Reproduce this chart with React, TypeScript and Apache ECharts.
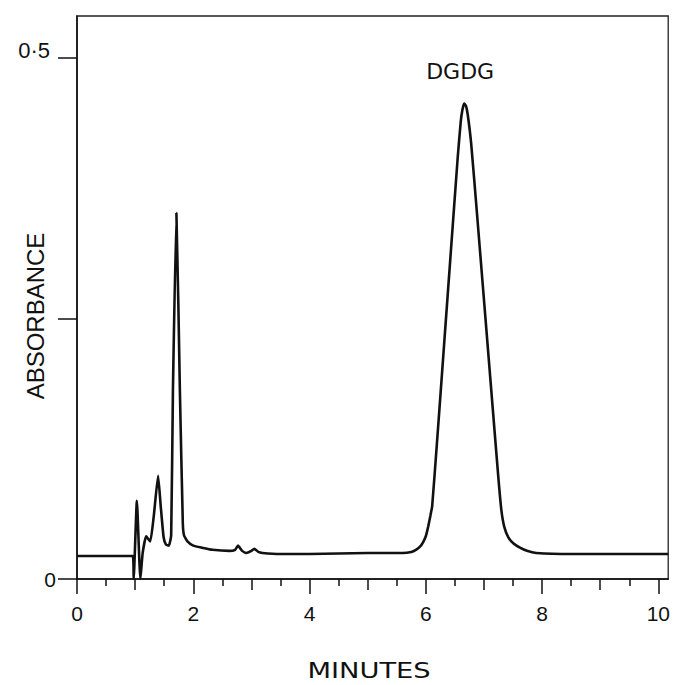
import React, { useEffect, useRef } from "react";
import * as echarts from "echarts";

const times = [
  0, 0.96, 0.975, 1.03, 1.09, 1.13, 1.19, 1.26, 1.32, 1.395, 1.44, 1.49, 1.53, 1.58, 1.62, 1.65, 1.71,
  1.77, 1.82, 1.84, 1.9, 2.0, 2.15, 2.33, 2.62, 2.72, 2.77, 2.84, 2.91, 3.0, 3.05, 3.12, 3.19, 3.5,
  4.0, 5.0, 5.6, 5.75, 5.83, 5.9, 5.95, 6.0, 6.04, 6.08, 6.11, 6.19, 6.28, 6.38, 6.47, 6.55, 6.6, 6.63,
  6.66, 6.69, 6.72, 6.78, 6.88, 6.98, 7.08, 7.18, 7.25, 7.3, 7.35, 7.42, 7.51, 7.62, 7.74, 7.9, 8.5, 10.17,
];
const absorbance = [
  0.022, 0.022, 0.0, 0.075, 0.0, 0.025, 0.041, 0.036, 0.06, 0.099, 0.07, 0.04, 0.033, 0.032, 0.042, 0.18, 0.351,
  0.18, 0.054, 0.042, 0.036, 0.032, 0.03, 0.028, 0.027, 0.028, 0.032, 0.027, 0.025, 0.027, 0.029, 0.026, 0.025, 0.024,
  0.024, 0.025, 0.025, 0.026, 0.028, 0.031, 0.035, 0.041, 0.05, 0.061, 0.07, 0.129, 0.198, 0.275, 0.344, 0.405, 0.438, 0.45,
  0.456, 0.454, 0.446, 0.418, 0.351, 0.282, 0.213, 0.144, 0.096, 0.066, 0.05, 0.04, 0.034, 0.03, 0.027, 0.025, 0.024, 0.024,
];
const majorXTicks = [0, 2, 4, 6, 8, 10];
const oddXTicks = [1, 3, 5, 7, 9];
const halfXTicks = [0.5, 1.5, 2.5, 3.5, 4.5, 5.5, 6.5, 7.5, 8.5, 9.5];
const yTicks = [0, 0.25, 0.5];
const yLabels = [0, 0.5];
const peakLabel = "DGDG";
const peakTime = 6.66;
const peakValue = 0.456;

const FONT = "Liberation Sans";
const INK = "#111";

export default function App() {
  const ref = useRef<HTMLDivElement>(null);
  useEffect(() => {
    document.body.style.margin = "0";
    const chart = echarts.init(ref.current!, null, { renderer: "svg" });
    const xBase = {
      type: "value" as const,
      min: 0,
      max: 10.17,
      position: "bottom" as const,
      splitLine: { show: false },
    };
    chart.setOption({
      animation: false,
      backgroundColor: "#fff",
      grid: {
        left: 77,
        right: 3,
        top: 16,
        bottom: 106,
        show: true,
        borderColor: "#222",
        borderWidth: 1.3,
        backgroundColor: "transparent",
      },
      xAxis: [
        {
          ...xBase,
          axisLine: { show: true, lineStyle: { color: INK, width: 1.6 } },
          axisTick: { show: true, customValues: majorXTicks, length: 15, lineStyle: { color: INK, width: 1.5 } },
          axisLabel: {
            show: true,
            customValues: majorXTicks,
            margin: 24,
            fontSize: 21,
            fontFamily: FONT,
            color: INK,
          },
        },
        {
          ...xBase,
          axisLine: { show: false },
          axisTick: { show: true, customValues: oddXTicks, length: 11, lineStyle: { color: INK, width: 1.5 } },
          axisLabel: { show: false },
        },
        {
          ...xBase,
          axisLine: { show: false },
          axisTick: { show: true, customValues: halfXTicks, length: 7, lineStyle: { color: INK, width: 1.5 } },
          axisLabel: { show: false },
        },
      ],
      yAxis: {
        type: "value",
        min: 0,
        max: 0.54,
        interval: 0.25,
        splitLine: { show: false },
        axisLine: { show: true, lineStyle: { color: INK, width: 1.6 } },
        axisTick: { show: true, customValues: yTicks, length: 19, lineStyle: { color: INK, width: 1.5 } },
        axisLabel: {
          show: true,
          customValues: yLabels,
          margin: 21,
          formatter: (v: number) => (v === 0 ? "{z|0}" : "{h|0·5}"),
          rich: {
            z: { fontSize: 21, fontFamily: FONT, color: INK },
            h: { fontSize: 22, fontFamily: FONT, color: INK, padding: [0, 6, 14, 0] },
          },
        },
      },
      graphic: [
        {
          type: "text",
          x: 35,
          y: 316,
          rotation: Math.PI / 2,
          style: {
            text: "ABSORBANCE",
            fontSize: 24,
            fontFamily: FONT,
            fill: INK,
            textAlign: "center",
            textVerticalAlign: "middle",
          },
        },
        {
          type: "text",
          x: 369,
          y: 671,
          scaleX: 1.3,
          style: {
            text: "MINUTES",
            fontSize: 21,
            fontFamily: "DejaVu Sans",
            fill: INK,
            textAlign: "center",
            textVerticalAlign: "middle",
          },
        },
      ],
      series: [
        {
          type: "line",
          xAxisIndex: 0,
          data: times.map((t, i) => [t, absorbance[i]]),
          showSymbol: false,
          smooth: 0.15,
          lineStyle: { color: INK, width: 2.6 },
          silent: true,
          markPoint: {
            symbol: "circle",
            symbolSize: 0,
            data: [{ coord: [peakTime, peakValue] }],
            label: {
              show: true,
              formatter: peakLabel,
              position: "inside",
              offset: [-4, -32],
              fontSize: 22,
              fontFamily: "DejaVu Sans",
              color: INK,
            },
          },
        },
      ],
    });
    return () => chart.dispose();
  }, []);
  return <div ref={ref} style={{ width: 673, height: 685 }} />;
}
